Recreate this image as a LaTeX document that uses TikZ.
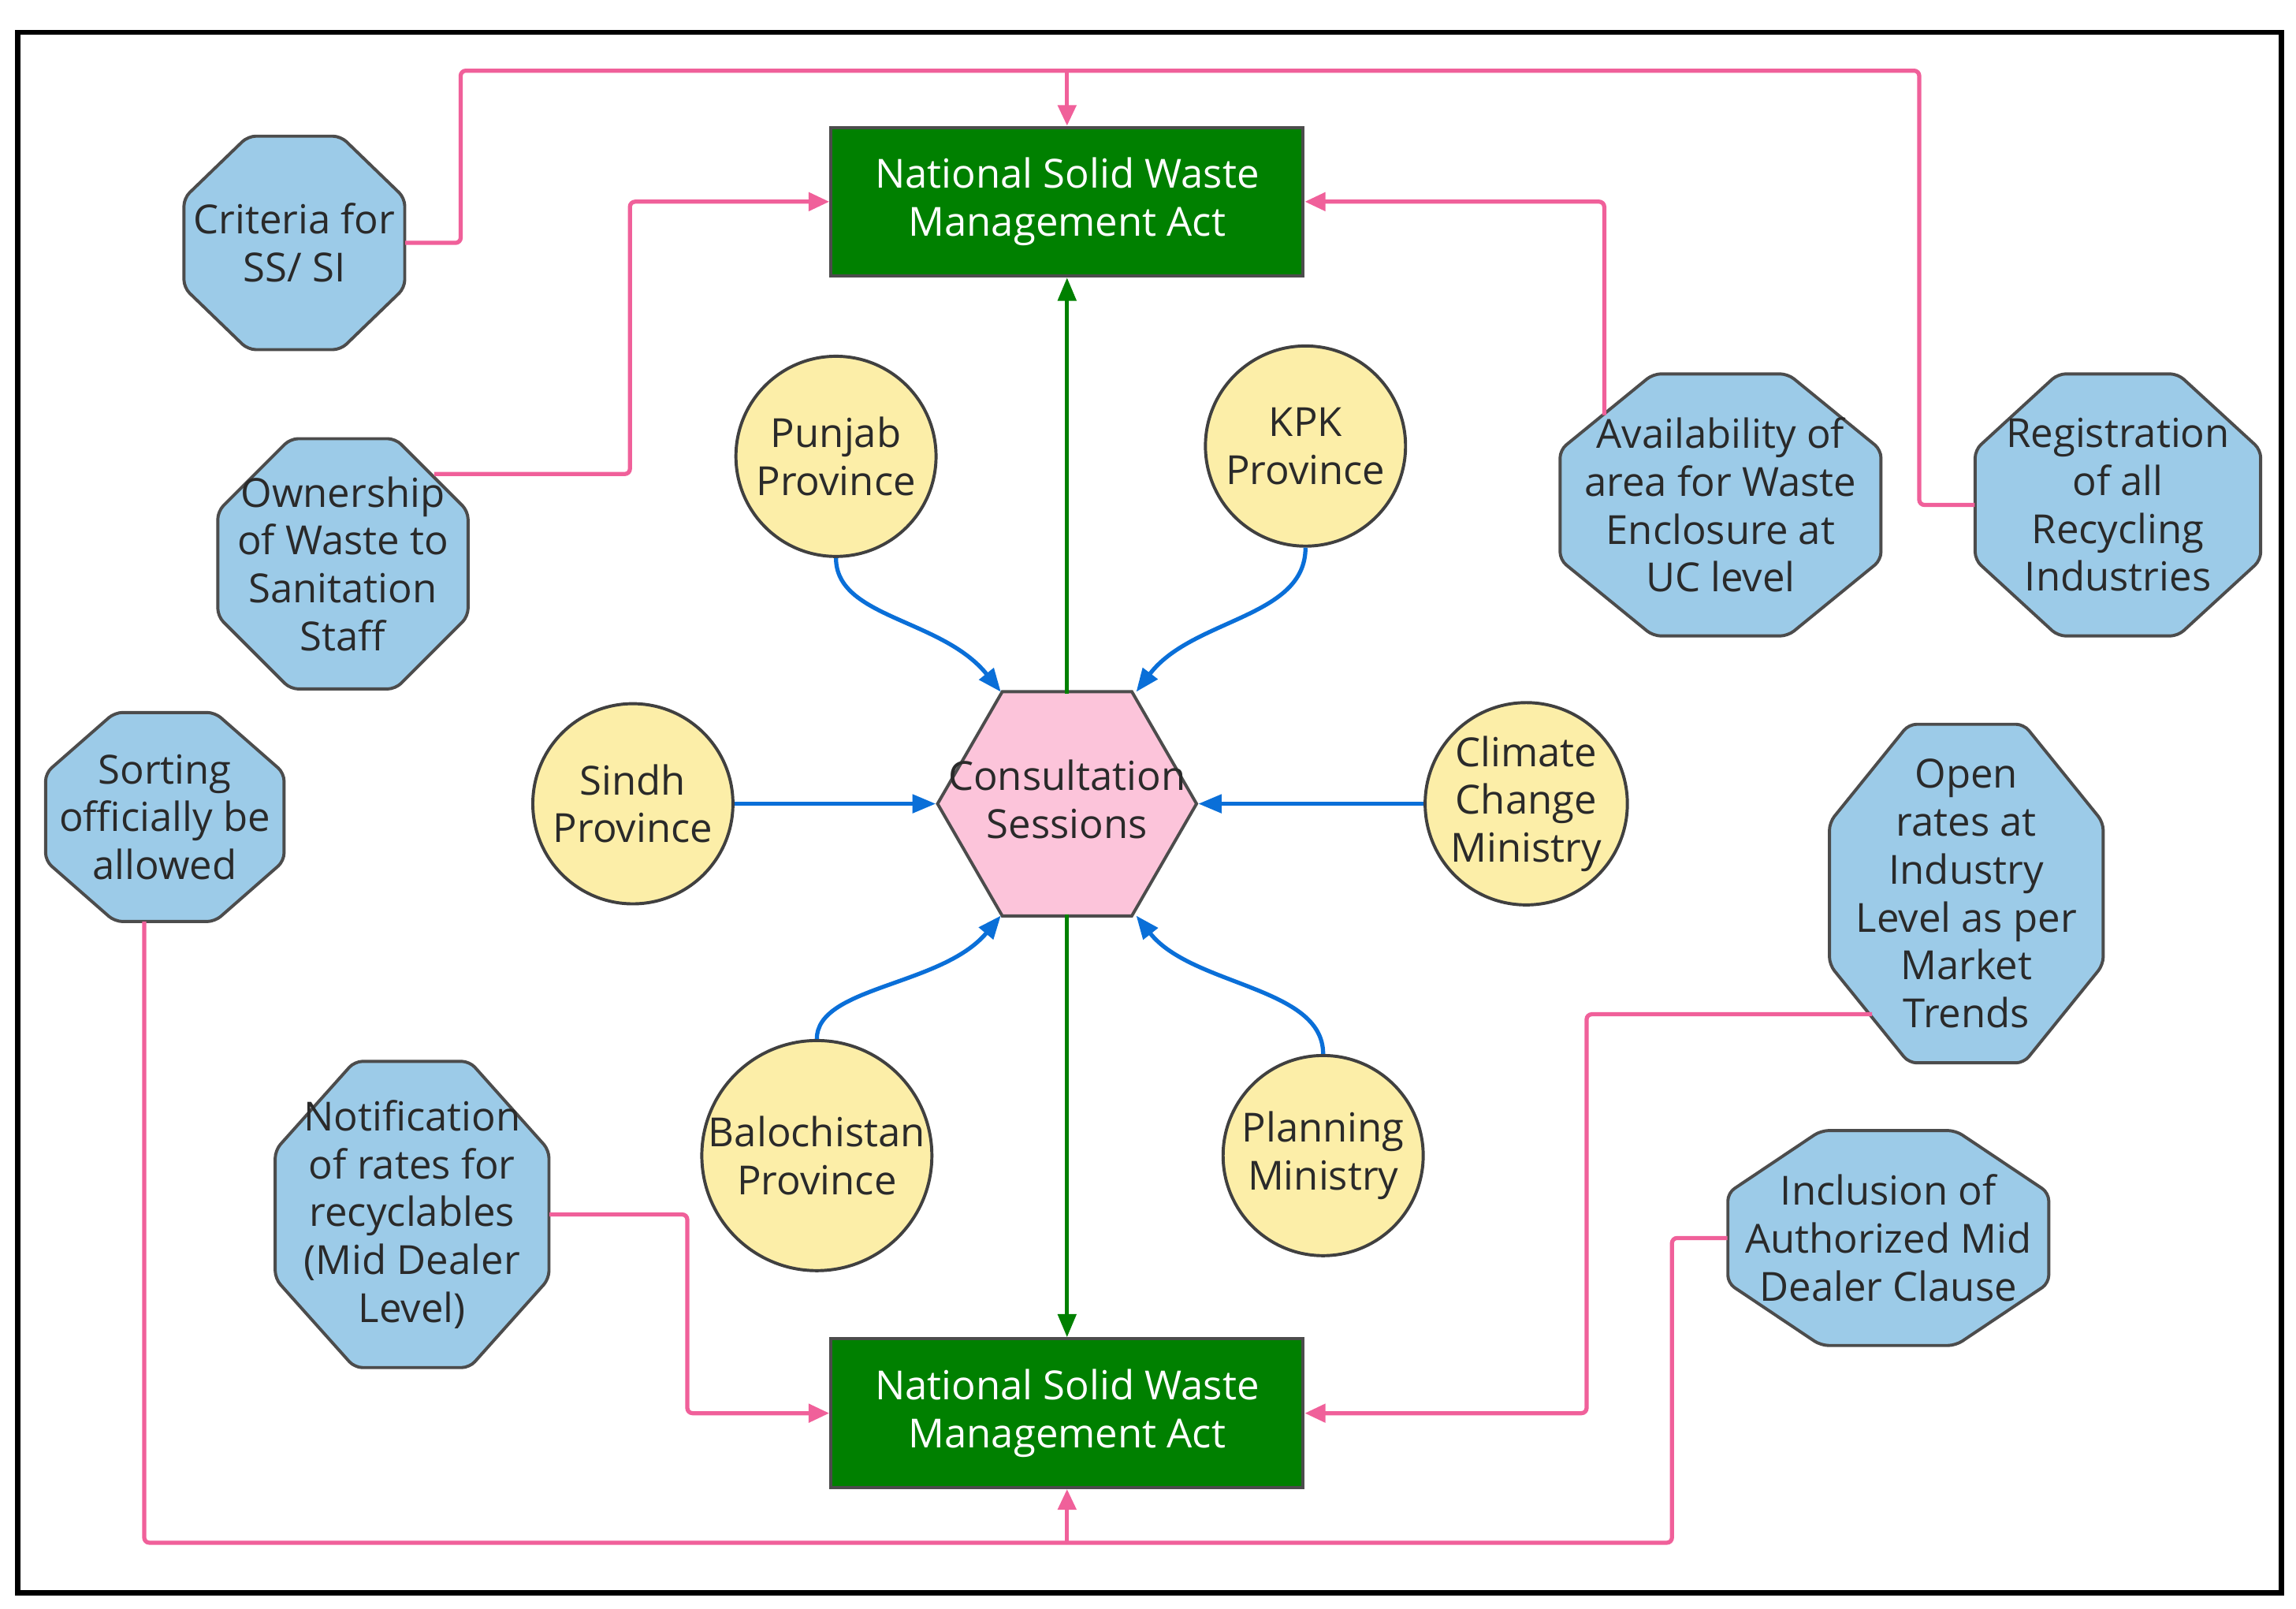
\documentclass[tikz,border=0pt]{standalone}
\usepackage{fontspec}
\setmainfont{Open Sans}
\usetikzlibrary{shapes.geometric,calc,arrows.meta}
\definecolor{pk}{HTML}{F0609A}
\definecolor{bl}{HTML}{9CCBE8}
\definecolor{yl}{HTML}{FCEEA8}
\definecolor{gr}{HTML}{008000}
\definecolor{ar}{HTML}{0A6FD8}
\definecolor{hx}{HTML}{FCC4DA}
\definecolor{tx}{HTML}{2A2A2A}
\newcommand{\myoct}[6]{%
  \draw[line width=1.2pt,draw=black!70,fill=bl,rounded corners=3pt]
   (#2-#4/2,#3-0.21*#5) -- (#2-0.21*#4,#3-#5/2) -- (#2+0.21*#4,#3-#5/2) -- (#2+#4/2,#3-0.21*#5)
   -- (#2+#4/2,#3+0.21*#5) -- (#2+0.21*#4,#3+#5/2) -- (#2-0.21*#4,#3+#5/2) -- (#2-#4/2,#3+0.21*#5) -- cycle;
  \node[minimum width=#4*0.02cm,minimum height=#5*0.02cm] (#1) at (#2,#3) {#6};}
\begin{document}
\begin{tikzpicture}[x=0.02cm,y=-0.02cm,
  every node/.style={font=\fontsize{15.5}{18.5}\selectfont,text=tx,align=center,inner sep=0pt},
  cir/.style={circle,draw=black!75,line width=1.2pt,fill=yl,minimum size=2.72cm},
  act/.style={rectangle,draw=black!70,line width=1.2pt,fill=gr,minimum width=6.42cm,minimum height=2.02cm,text=white},
  pl/.style={draw=pk,line width=1.6pt,rounded corners=2pt},
  pa/.style={pl,-{Triangle[width=7pt,length=8pt]}},
  ga/.style={draw=gr,line width=1.6pt,-{Triangle[width=7pt,length=9pt]}},
  ba/.style={draw=ar,line width=1.6pt,-{Triangle[width=7pt,length=9pt]}}]
\useasboundingbox (0,0) rectangle (1560,1093);
\draw[line width=2pt] (12,22) rectangle (1550,1082);
\node[act] (t) at (725,137) {National Solid Waste\\Management Act};
\node[act] (b) at (725,960) {National Solid Waste\\Management Act};
\node[regular polygon,regular polygon sides=6,minimum size=3.52cm,draw=black!70,line width=1.2pt,fill=hx] (cs) at (725,546) {};
\node at (725,543) {Consultation\\Sessions};
\node[cir] (pu) at (568,310) {Punjab\\Province};
\node[cir] (kp) at (887,303) {KPK\\Province};
\node[cir] (si) at (430,546) {Sindh\\Province};
\node[cir] (cc) at (1037,546) {Climate\\Change\\Ministry};
\node[cir] (ba) at (555,785) {Balochistan\\Province};
\node[cir] (pm) at (899,785) {Planning\\Ministry};
\myoct{cr}{200}{165}{150}{145}{Criteria for\\SS/ SI}
\myoct{ow}{233}{383}{170}{170}{Ownership\\of Waste to\\Sanitation\\Staff}
\myoct{so}{112}{555}{162}{142}{Sorting\\officially be\\allowed}
\myoct{no}{280}{825}{186}{208}{Notification\\of rates for\\recyclables\\(Mid Dealer\\Level)}
\myoct{av}{1169}{343}{218}{178}{Availability of\\area for Waste\\Enclosure at\\UC level}
\myoct{re}{1439}{343}{194}{178}{Registration\\of all\\Recycling\\Industries}
\myoct{op}{1336}{607}{186}{230}{Open\\rates at\\Industry\\Level as per\\Market\\Trends}
\myoct{in}{1283}{841}{218}{146}{Inclusion of\\Authorized Mid\\Dealer Clause}
\coordinate (tj) at (725,48);
\coordinate (bj) at (725,1048);
\coordinate (owp) at (295,322);
\coordinate (avp) at (1090,282);
\coordinate (sop) at (98,626);
\coordinate (opp) at (1272,689);
\draw[pl] (cr.east) -- (313,165) -- (313,48) -- (tj);
\draw[pl] (re.west) -- (1304,343) -- (1304,48) -- (tj);
\draw[pa] (tj) -- (t.north);
\draw[pa] (owp) -- (428,322) -- (428,137) -- (t.west);
\draw[pa] (avp) -- (1090,137) -- (t.east);
\draw[pl] (sop) -- (98,1048) -- (bj);
\draw[pl] (in.west) -- (1136,841) -- (1136,1048) -- (bj);
\draw[pa] (bj) -- (b.south);
\draw[pa] (no.east) -- (467,825) -- (467,960) -- (b.west);
\draw[pa] (opp) -- (1078,689) -- (1078,960) -- (b.east);
\draw[ga] (725,471) -- (t.south);
\draw[ga] (725,621) -- (b.north);
\draw[ba] (pu.south) .. controls (568,420) and (640,420) .. (680,470);
\draw[ba] (kp.south) .. controls (887,420) and (810,420) .. (772,470);
\draw[ba] (si.east) -- (cs.west);
\draw[ba] (cc.west) -- (cs.east);
\draw[ba] (ba.north) .. controls (555,670) and (640,670) .. (680,622);
\draw[ba] (pm.north) .. controls (899,670) and (810,670) .. (772,622);
\end{tikzpicture}
\end{document}
